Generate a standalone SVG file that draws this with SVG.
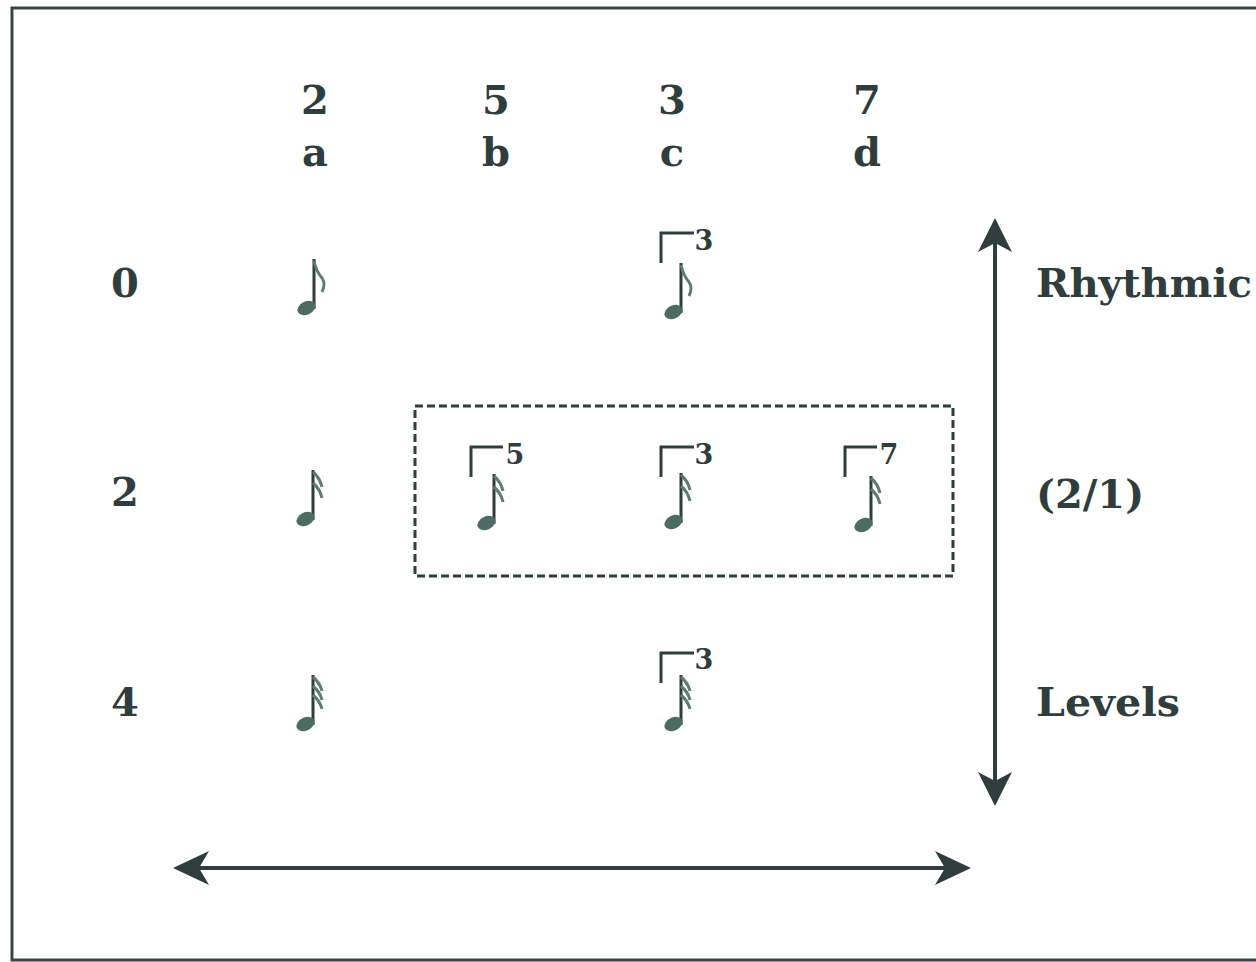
<svg xmlns="http://www.w3.org/2000/svg" width="1256" height="962" viewBox="0 0 1256 962">
<style>
.t{font-family:"DejaVu Serif","Liberation Serif",serif;font-weight:bold;fill:#2f3d3d}
.lab{font-size:40px}
.tup{font-size:27px}
.br{fill:none;stroke:#2f3d3d;stroke-width:3}
.ax{stroke:#2f3d3d;stroke-width:4;fill:none}
.ah{fill:#2f3d3d}
.stem{stroke:#2f3d3d;stroke-width:3}
.head{fill:#4c6b63}
.flag{fill:none;stroke:#5e7b74;stroke-width:3}
</style>
<defs>
<g id="n8">
<line class="stem" x1="0" y1="0" x2="0" y2="50"/>
<ellipse class="head" cx="-7.5" cy="49" rx="9.5" ry="6.5" transform="rotate(-25 -7.5 49)"/>
<path class="flag" d="M0,2 Q2,12 8,19 Q12,25 8,33"/>
</g>
<g id="n16">
<line class="stem" x1="0" y1="0" x2="0" y2="50"/>
<ellipse class="head" cx="-7.5" cy="49" rx="9.5" ry="6.5" transform="rotate(-25 -7.5 49)"/>
<path class="flag" d="M0,2 Q7,8 9,17 M0,13 Q7,19 9,28"/>
</g>
<g id="n32">
<line class="stem" x1="0" y1="0" x2="0" y2="50"/>
<ellipse class="head" cx="-7.5" cy="49" rx="9.5" ry="6.5" transform="rotate(-25 -7.5 49)"/>
<path class="flag" d="M0,2 Q7,8 9,16 M0,11 Q7,17 9,25 M0,20 Q7,26 9,34"/>
</g>
</defs>
<rect x="0" y="0" width="1256" height="962" fill="#ffffff"/>
<rect x="12" y="8" width="1250" height="952" fill="none" stroke="#3a4444" stroke-width="3"/>

<g id="col-labels">
<text class="t lab" x="315" y="114" text-anchor="middle">2</text>
<text class="t lab" x="315" y="166" text-anchor="middle">a</text>
<text class="t lab" x="496" y="114" text-anchor="middle">5</text>
<text class="t lab" x="496" y="166" text-anchor="middle">b</text>
<text class="t lab" x="672" y="114" text-anchor="middle">3</text>
<text class="t lab" x="672" y="166" text-anchor="middle">c</text>
<text class="t lab" x="867" y="114" text-anchor="middle">7</text>
<text class="t lab" x="867" y="166" text-anchor="middle">d</text>
</g>
<g id="row-labels">
<text class="t lab" x="125" y="297" text-anchor="middle">0</text>
<text class="t lab" x="125" y="506" text-anchor="middle">2</text>
<text class="t lab" x="125" y="716" text-anchor="middle">4</text>
</g>
<g id="side-labels">
<text class="t lab" x="1036" y="297" textLength="216" lengthAdjust="spacingAndGlyphs">Rhythmic</text>
<text class="t lab" x="1036" y="508">(2/1)</text>
<text class="t lab" x="1036" y="716" textLength="144" lengthAdjust="spacingAndGlyphs">Levels</text>
</g>

<g id="notes">
<use href="#n8" x="314" y="259"/>
<g id="tuplet-c0">
<path class="br" d="M661,263 V233 H694"/>
<text class="t tup" x="704" y="250" text-anchor="middle">3</text>
<use href="#n8" x="681" y="263"/>
</g>
<use href="#n16" x="313" y="470"/>
<g id="tuplet-b2">
<path class="br" d="M471,477 V447 H503"/>
<text class="t tup" x="515" y="464" text-anchor="middle">5</text>
<use href="#n16" x="494" y="474"/>
</g>
<g id="tuplet-c2">
<path class="br" d="M661,477 V447 H694"/>
<text class="t tup" x="704" y="464" text-anchor="middle">3</text>
<use href="#n16" x="681" y="473"/>
</g>
<g id="tuplet-d2">
<path class="br" d="M845,477 V447 H877"/>
<text class="t tup" x="889" y="464" text-anchor="middle">7</text>
<use href="#n16" x="871" y="476"/>
</g>
<use href="#n32" x="313" y="675"/>
<g id="tuplet-c4">
<path class="br" d="M661,683 V653 H694"/>
<text class="t tup" x="704" y="669" text-anchor="middle">3</text>
<use href="#n32" x="681" y="675"/>
</g>
</g>

<g id="group-box">
<rect x="415" y="406" width="538" height="170" fill="none" stroke="#2f3d3d" stroke-width="3" stroke-dasharray="8,4"/>
</g>

<g id="connectors">
<line class="ax" x1="995" y1="240" x2="995" y2="785"/>
<path class="ah" d="M995,218 L1012,252 L995,243 L978,252 Z"/>
<path class="ah" d="M995,806 L1012,772 L995,781 L978,772 Z"/>
<line class="ax" x1="195" y1="868" x2="950" y2="868"/>
<path class="ah" d="M173,868 L209,851 L199,868 L209,885 Z"/>
<path class="ah" d="M971,868 L935,851 L945,868 L935,885 Z"/>
</g>
</svg>
